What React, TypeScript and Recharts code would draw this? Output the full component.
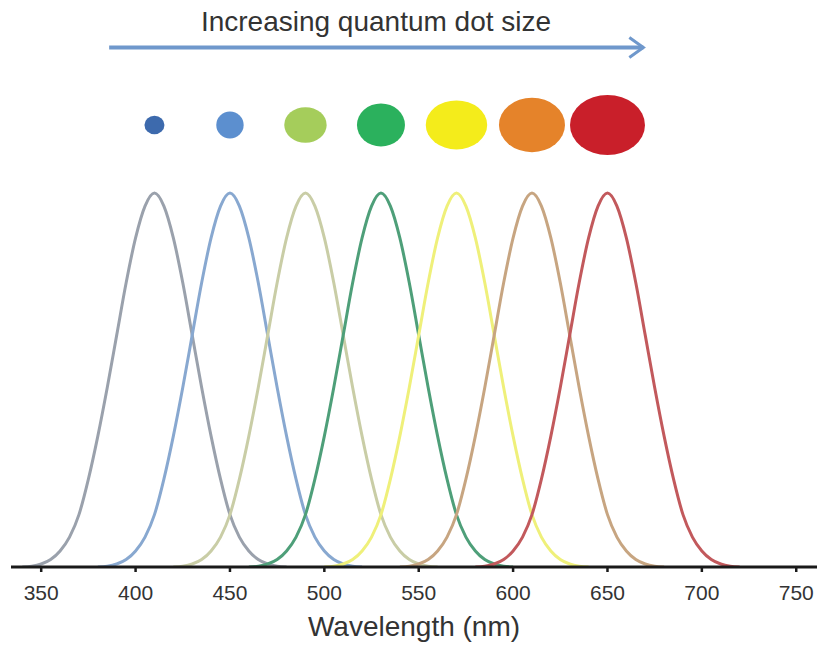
import { ComposedChart, Line, Scatter, XAxis, YAxis } from 'recharts'

// emission profile, relative intensity (%) at offsets (nm) from the peak
const offsets = [-70, -65, -60, -55, -50, -45, -40, -35, -30, -25, -20, -15, -10, -5, 0, 5, 10, 15, 20, 25, 30, 35, 40, 45, 50, 55, 60, 65, 70]
const profile = [0, 0.2, 0.8, 2, 4.3, 8, 14, 23.5, 35, 48, 62, 76, 88, 96.5, 100, 96.5, 88, 76, 62, 48, 35, 23.5, 14, 8, 4.3, 2, 0.8, 0.2, 0]

// peak wavelengths (nm), smallest dot to largest
const peaks = [410, 450, 490, 530, 570, 610, 650]
const xTicks = [350, 400, 450, 500, 550, 600, 650, 700, 750]
const arrowRange = [386, 669]

const curveColors = ['#9aa1ac', '#88a8d0', '#c9cda6', '#4e9f79', '#eff07a', '#c7a581', '#c2595c']
const dotColors = ['#3d6aad', '#5c8fcf', '#a5cd5b', '#2bb15d', '#f4ec1b', '#e5832a', '#c91f2a']
const dotRadii = [[10, 9.2], [13.7, 13.5], [21.2, 17.8], [24, 21.5], [30.7, 24.5], [33, 27.2], [37.5, 30]]

const DOT_ROW = 118.2
const ARROW_ROW = 138.9
const FONT = '"Liberation Sans", Arial, sans-serif'

const curves = peaks.map((p) => offsets.map((o, i) => ({ x: p + o, y: profile[i] })))
const dots = peaks.map((p, i) => ({ x: p, y: DOT_ROW, i }))
const arrow = arrowRange.map((x) => ({ x, y: ARROW_ROW }))

export default function App() {
  return (
    <div style={{ position: 'absolute', left: 0, top: 0, width: 817, height: 645, background: '#fff' }}>
      <ComposedChart width={817} height={645} margin={{ top: 6, right: 0, bottom: 0, left: 11 }}>
        <XAxis
          type="number"
          dataKey="x"
          domain={[334, 761]}
          allowDataOverflow
          ticks={xTicks}
          height={78}
          tickSize={5}
          tickMargin={13}
          axisLine={{ stroke: '#1a1a1a', strokeWidth: 3 }}
          tickLine={{ stroke: '#1a1a1a', strokeWidth: 2.5 }}
          tick={{ fill: '#333', fontSize: 21, fontFamily: FONT }}
          label={{ value: 'Wavelength (nm)', position: 'insideBottom', offset: 9, fill: '#333', fontSize: 28, fontFamily: FONT }}
        />
        <YAxis type="number" dataKey="y" domain={[0, 150]} allowDataOverflow hide />
        {curves.map((data, i) => (
          <Line
            key={peaks[i]}
            data={data}
            dataKey="y"
            type="monotone"
            stroke={curveColors[i]}
            strokeWidth={3}
            dot={false}
            activeDot={false}
            isAnimationActive={false}
          />
        ))}
        <Line
          data={arrow}
          dataKey="y"
          type="linear"
          stroke="#6f98cc"
          strokeWidth={4}
          activeDot={false}
          isAnimationActive={false}
          dot={(p: any) =>
            p.index === arrow.length - 1 ? (
              <path
                key="head"
                d={`M${p.cx - 14},${p.cy - 10} L${p.cx},${p.cy} L${p.cx - 14},${p.cy + 10}`}
                fill="none"
                stroke="#6f98cc"
                strokeWidth={3}
              />
            ) : (
              <g key={`a${p.index}`} />
            )
          }
        />
        <Scatter
          data={dots}
          dataKey="y"
          isAnimationActive={false}
          shape={(p: any) => (
            <ellipse
              cx={p.cx}
              cy={p.cy}
              rx={dotRadii[p.payload.i][0]}
              ry={dotRadii[p.payload.i][1]}
              fill={dotColors[p.payload.i]}
            />
          )}
        />
      </ComposedChart>
      <svg width={817} height={60} style={{ position: 'absolute', left: 0, top: 0 }}>
        <text x={376} y={31} textAnchor="middle" fontSize={28} fontFamily={FONT} fill="#333">
          Increasing quantum dot size
        </text>
      </svg>
    </div>
  )
}
